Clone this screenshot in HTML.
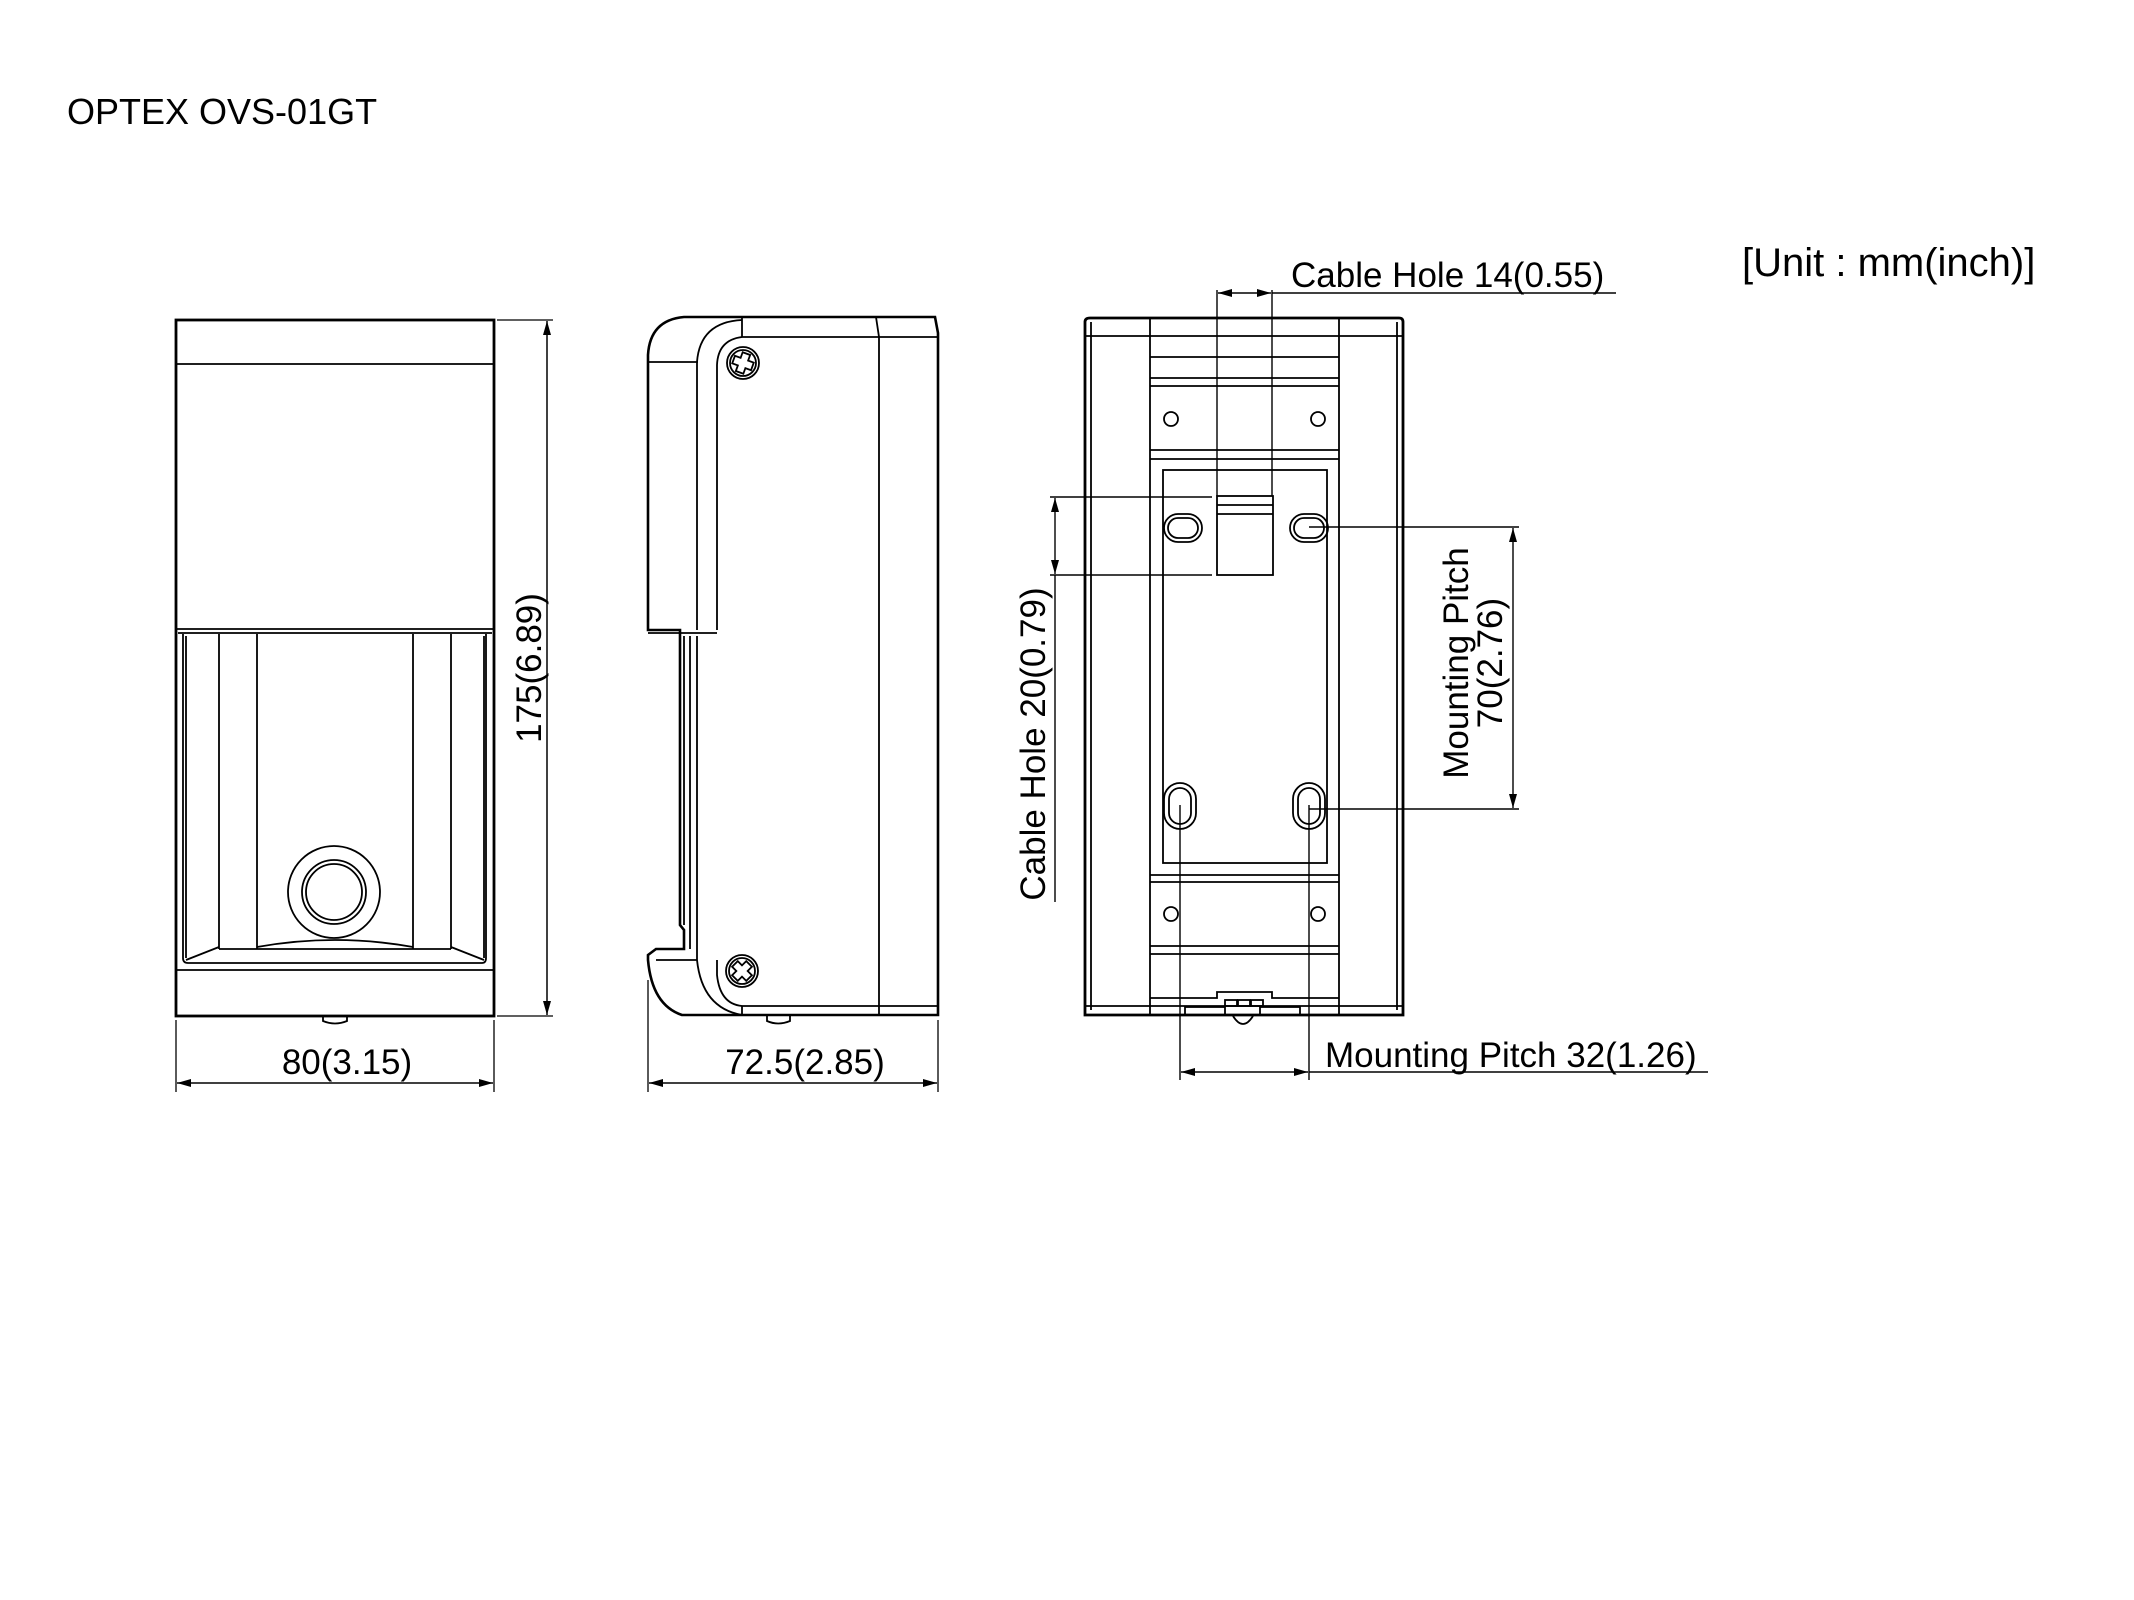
<!DOCTYPE html>
<html><head><meta charset="utf-8"><style>
html,body{margin:0;padding:0;background:#fff;}
svg{display:block;}
text{font-family:"Liberation Sans",Arial,sans-serif;fill:#000;}
</style></head><body>
<svg width="2134" height="1600" viewBox="0 0 2134 1600" xmlns="http://www.w3.org/2000/svg">
<defs>
<marker id="a" markerWidth="14" markerHeight="8" refX="14" refY="4" orient="auto" markerUnits="userSpaceOnUse"><path d="M0,0 L14,4 L0,8 Z" fill="#000"/></marker>
<marker id="b" markerWidth="14" markerHeight="8" refX="0" refY="4" orient="auto" markerUnits="userSpaceOnUse"><path d="M14,0 L0,4 L14,8 Z" fill="#000"/></marker>
</defs>
<text x="67" y="124" font-size="36">OPTEX OVS-01GT</text>
<text x="1742" y="276" font-size="40">[Unit : mm(inch)]</text>

<g fill="none" stroke="#000" stroke-width="1.8">
<rect x="176" y="320" width="318" height="696" stroke-width="2.8"/>
<line x1="176" y1="364" x2="494" y2="364"/>
<line x1="176" y1="629" x2="494" y2="629"/>
<line x1="178" y1="633" x2="492" y2="633"/>
<path d="M183,634 L183,958 Q183,963 188,963 L482,963 Q486,963 486,958 L486,634"/>
<line x1="186" y1="636" x2="186" y2="958"/>
<line x1="484" y1="636" x2="484" y2="958"/>
<line x1="219" y1="634" x2="219" y2="949"/>
<line x1="257" y1="634" x2="257" y2="949"/>
<line x1="413" y1="634" x2="413" y2="949"/>
<line x1="451" y1="634" x2="451" y2="949"/>
<line x1="219" y1="949" x2="451" y2="949"/>
<line x1="186" y1="960" x2="219" y2="947"/>
<line x1="484" y1="960" x2="451" y2="947"/>
<path d="M257,947 Q335,933 413,947"/>
<line x1="176" y1="970" x2="494" y2="970"/>
<circle cx="334" cy="892" r="46"/>
<circle cx="334" cy="892" r="32"/>
<circle cx="334" cy="892" r="28"/>
<path d="M323,1016 L323,1021 Q335,1026 347,1021 L347,1016"/>
<line x1="497" y1="320" x2="553" y2="320" stroke-width="1.3"/>
<line x1="497" y1="1016" x2="553" y2="1016" stroke-width="1.3"/>
<line x1="547" y1="321" x2="547" y2="1015" stroke-width="1.5" marker-start="url(#b)" marker-end="url(#a)"/>
<line x1="176" y1="1020" x2="176" y2="1092" stroke-width="1.3"/>
<line x1="494" y1="1020" x2="494" y2="1092" stroke-width="1.3"/>
<line x1="177" y1="1083" x2="493" y2="1083" stroke-width="1.5" marker-start="url(#b)" marker-end="url(#a)"/>

<path d="M742,317 L935,317 L938,333 L938,1015 L682,1015 Q652,1005 648,960 L648,955 L656,949 L684,949 L684,930 L680,925 L680,630 L648,630 L648,355 Q650,320 684,317 L742,317" stroke-width="2.6"/>
<line x1="648" y1="362" x2="698" y2="362"/>
<line x1="697" y1="362" x2="697" y2="630"/>
<path d="M697,362 Q700,322 742,320"/>
<path d="M717,630 L717,365 Q718,340 742,337 L938,337"/>
<line x1="742" y1="317" x2="742" y2="337"/>
<path d="M876,317 L879,337 L879,1015"/>
<line x1="648" y1="633" x2="717" y2="633"/>
<line x1="684" y1="636" x2="684" y2="925"/>
<line x1="690" y1="636" x2="690" y2="949"/>
<line x1="697" y1="636" x2="697" y2="960"/>
<line x1="656" y1="960" x2="697" y2="960"/>
<path d="M697,960 Q702,1008 742,1015"/>
<path d="M717,960 L717,975 Q720,1004 742,1006 L938,1006"/>
<line x1="742" y1="1006" x2="742" y2="1015"/>
<circle cx="743" cy="363" r="16"/><circle cx="743" cy="363" r="13"/>
<path d="M739,353 h8 v6 h6 v8 h-6 v6 h-8 v-6 h-6 v-8 h6 z" transform="rotate(20 743 363)"/>
<circle cx="742" cy="971" r="16"/><circle cx="742" cy="971" r="13"/>
<path d="M738,961 h8 v6 h6 v8 h-6 v6 h-8 v-6 h-6 v-8 h6 z" transform="rotate(45 742 971)"/>
<path d="M767,1016 L767,1021 Q778,1026 790,1021 L790,1016"/>
<line x1="648" y1="980" x2="648" y2="1092" stroke-width="1.3"/>
<line x1="938" y1="1020" x2="938" y2="1092" stroke-width="1.3"/>
<line x1="649" y1="1083" x2="937" y2="1083" stroke-width="1.5" marker-start="url(#b)" marker-end="url(#a)"/>

<path d="M1085,322 Q1085,318 1090,318 L1399,318 Q1403,318 1403,322 L1403,1015 L1085,1015 Z" stroke-width="2.8"/>
<line x1="1091" y1="322" x2="1091" y2="1010"/>
<line x1="1397" y1="322" x2="1397" y2="1010"/>
<line x1="1085" y1="336" x2="1403" y2="336"/>
<line x1="1085" y1="1006" x2="1403" y2="1006"/>
<line x1="1150" y1="318" x2="1150" y2="1015"/>
<line x1="1339" y1="318" x2="1339" y2="1015"/>
<line x1="1150" y1="357" x2="1339" y2="357"/>
<line x1="1150" y1="378" x2="1339" y2="378"/>
<line x1="1150" y1="386" x2="1339" y2="386"/>
<circle cx="1171" cy="419" r="7"/><circle cx="1318" cy="419" r="7"/>
<line x1="1150" y1="450" x2="1339" y2="450"/>
<line x1="1150" y1="459" x2="1339" y2="459"/>
<rect x="1163" y="470" width="164" height="393"/>
<rect x="1217" y="496" width="56" height="79"/>
<line x1="1217" y1="505" x2="1273" y2="505"/>
<line x1="1217" y1="514" x2="1273" y2="514"/>
<rect x="1164" y="514" width="38" height="28" rx="14"/>
<rect x="1168" y="518" width="30" height="20" rx="10"/>
<rect x="1290" y="514" width="38" height="28" rx="14"/>
<rect x="1294" y="518" width="30" height="20" rx="10"/>
<rect x="1164" y="783" width="32" height="46" rx="16"/>
<rect x="1169" y="788" width="22" height="36" rx="11"/>
<rect x="1293" y="783" width="32" height="46" rx="16"/>
<rect x="1298" y="788" width="22" height="36" rx="11"/>
<line x1="1150" y1="875" x2="1339" y2="875"/>
<line x1="1150" y1="882" x2="1339" y2="882"/>
<circle cx="1171" cy="914" r="7"/><circle cx="1318" cy="914" r="7"/>
<line x1="1150" y1="946" x2="1339" y2="946"/>
<line x1="1150" y1="954" x2="1339" y2="954"/>
<path d="M1150,998 L1217,998 L1217,992 L1272,992 L1272,998 L1339,998"/>
<rect x="1225" y="1000" width="12" height="6"/><rect x="1238" y="1000" width="12" height="6"/><rect x="1251" y="1000" width="12" height="6"/>
<rect x="1185" y="1007" width="40" height="8"/><rect x="1260" y="1007" width="40" height="8"/>
<path d="M1233,1016 Q1243,1032 1253,1016"/>
<g stroke-width="1.4">
<line x1="1217" y1="290" x2="1217" y2="496"/>
<line x1="1272" y1="290" x2="1272" y2="496"/>
<line x1="1218" y1="293" x2="1271" y2="293" marker-start="url(#b)" marker-end="url(#a)"/>
<line x1="1272" y1="293" x2="1616" y2="293"/>
<line x1="1050" y1="497" x2="1212" y2="497"/>
<line x1="1050" y1="575" x2="1212" y2="575"/>
<line x1="1055" y1="498" x2="1055" y2="574" marker-start="url(#b)" marker-end="url(#a)"/>
<line x1="1055" y1="575" x2="1055" y2="902"/>
<line x1="1309" y1="527" x2="1519" y2="527"/>
<line x1="1309" y1="809" x2="1519" y2="809"/>
<line x1="1513" y1="528" x2="1513" y2="808" marker-start="url(#b)" marker-end="url(#a)"/>
<line x1="1180" y1="805" x2="1180" y2="1080"/>
<line x1="1309" y1="805" x2="1309" y2="1080"/>
<line x1="1181" y1="1072" x2="1308" y2="1072" marker-start="url(#b)" marker-end="url(#a)"/>
<line x1="1309" y1="1072" x2="1708" y2="1072"/>
</g>
</g>

<text x="347" y="1074" font-size="35" text-anchor="middle">80(3.15)</text>
<text x="805" y="1074" font-size="35" text-anchor="middle">72.5(2.85)</text>
<text transform="translate(541,668) rotate(-90)" font-size="35" text-anchor="middle">175(6.89)</text>
<text x="1291" y="287" font-size="35">Cable Hole 14(0.55)</text>
<text transform="translate(1045,744) rotate(-90)" font-size="35" text-anchor="middle">Cable Hole 20(0.79)</text>
<text transform="translate(1468,663) rotate(-90)" font-size="35" text-anchor="middle">Mounting Pitch</text>
<text transform="translate(1502,663) rotate(-90)" font-size="35" text-anchor="middle">70(2.76)</text>
<text x="1325" y="1067" font-size="35">Mounting Pitch 32(1.26)</text>
</svg>
</body></html>
